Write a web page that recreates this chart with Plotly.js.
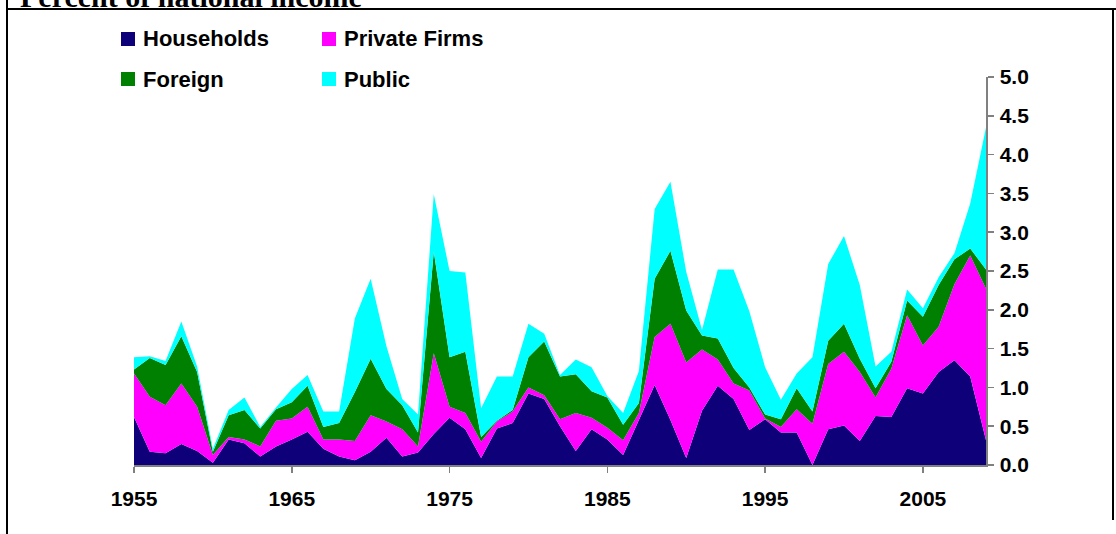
<!DOCTYPE html>
<html>
<head>
<meta charset="utf-8">
<script src="https://cdn.plot.ly/plotly-3.0.1.min.js"></script>
<style>
  html, body { margin: 0; padding: 0; background: #ffffff; }
  #chart { width: 1116px; height: 534px; }
</style>
</head>
<body>
<div id="chart"></div>
<script>
// ---------- data (percent of national income) ----------
const years = [1955,1956,1957,1958,1959,1960,1961,1962,1963,1964,
               1965,1966,1967,1968,1969,1970,1971,1972,1973,1974,
               1975,1976,1977,1978,1979,1980,1981,1982,1983,1984,
               1985,1986,1987,1988,1989,1990,1991,1992,1993,1994,
               1995,1996,1997,1998,1999,2000,2001,2002,2003,2004,
               2005,2006,2007,2008,2009];

const households = [0.62,0.17,0.15,0.27,0.18,0.03,0.33,0.28,0.11,0.24,
                    0.33,0.43,0.21,0.11,0.06,0.17,0.35,0.11,0.16,0.40,
                    0.61,0.46,0.09,0.47,0.54,0.92,0.85,0.50,0.18,0.46,
                    0.33,0.13,0.58,1.03,0.58,0.09,0.70,1.02,0.85,0.45,
                    0.59,0.42,0.42,0.00,0.46,0.51,0.31,0.63,0.62,0.99,
                    0.92,1.20,1.35,1.14,0.32];

const privateFirms = [0.56,0.71,0.62,0.78,0.57,0.10,0.03,0.05,0.13,0.33,
                      0.27,0.32,0.12,0.22,0.25,0.47,0.21,0.35,0.08,1.04,
                      0.14,0.21,0.21,0.09,0.15,0.08,0.05,0.09,0.49,0.15,
                      0.15,0.19,0.09,0.62,1.24,1.23,0.79,0.34,0.20,0.51,
                      0.01,0.07,0.30,0.53,0.84,0.95,0.89,0.24,0.62,0.94,
                      0.62,0.58,0.98,1.56,1.95];

const foreign = [0.05,0.50,0.52,0.61,0.45,0.04,0.28,0.38,0.23,0.15,
                 0.21,0.27,0.16,0.21,0.63,0.73,0.42,0.31,0.18,1.31,
                 0.64,0.79,0.06,0.01,0.02,0.39,0.69,0.55,0.50,0.34,
                 0.39,0.20,0.13,0.75,0.94,0.67,0.18,0.27,0.20,0.04,
                 0.05,0.10,0.27,0.16,0.30,0.36,0.17,0.12,0.09,0.19,
                 0.37,0.54,0.32,0.09,0.25];

const publicSector = [0.16,0.02,0.05,0.19,0.07,0.04,0.07,0.16,0.02,0.02,
                      0.17,0.14,0.20,0.15,0.95,1.03,0.55,0.08,0.23,0.74,
                      1.11,1.02,0.37,0.57,0.43,0.43,0.10,0.02,0.19,0.31,
                      0.02,0.15,0.41,0.90,0.89,0.50,0.07,0.89,1.27,0.98,
                      0.61,0.25,0.19,0.70,0.99,1.13,0.95,0.28,0.13,0.14,
                      0.11,0.10,0.08,0.58,1.83];

const seriesNames = ["Households", "Private Firms", "Foreign", "Public"];
const xTickVals = [1955, 1965, 1975, 1985, 1995, 2005];
const yTickVals = [0, 0.5, 1, 1.5, 2, 2.5, 3, 3.5, 4, 4.5, 5];
const titleText = "Percent of national income";

// ---------- styling ----------
const colors = ["#0e0078", "#ff00ff", "#008000", "#00ffff"];
const W = 1116, H = 534;
const M = {l: 134, r: 130, t: 77, b: 69};
const PW = W - M.l - M.r, PH = H - M.t - M.b;
const px2x = p => (p - M.l) / PW;          // pixel -> paper x
const px2y = p => (H - M.b - p) / PH;      // pixel -> paper y
const sans = "Liberation Sans, Arial, sans-serif";
const serif = "Liberation Serif, Times New Roman, serif";

const allSeries = [households, privateFirms, foreign, publicSector];
const traces = allSeries.map((vals, i) => ({
  type: "scatter",
  x: years,
  y: vals,
  name: seriesNames[i],
  stackgroup: "one",
  mode: "none",
  fillcolor: colors[i],
  line: {width: 0},
  hoverinfo: "x+y+name"
}));

// legend (2 x 2 grid) built from the series names
const legendPos = [
  {sx: 121, tx: 142, cy: 39},
  {sx: 322, tx: 343, cy: 39},
  {sx: 121, tx: 142, cy: 79},
  {sx: 322, tx: 343, cy: 79}
];
const shapes = [];
const annotations = [];
seriesNames.forEach((nm, i) => {
  const p = legendPos[i];
  shapes.push({
    type: "rect", xref: "paper", yref: "paper",
    x0: px2x(p.sx), x1: px2x(p.sx + 14),
    y0: px2y(p.cy + 7), y1: px2y(p.cy - 7),
    fillcolor: colors[i], line: {width: 0}
  });
  annotations.push({
    xref: "paper", yref: "paper", x: px2x(p.tx - 1), y: px2y(p.cy),
    xanchor: "left", yanchor: "middle", showarrow: false,
    text: nm, font: {family: sans, size: 22, color: "#000", weight: "bold"}
  });
});

// frame lines
shapes.push({type: "line", xref: "paper", yref: "paper",
  x0: px2x(7), x1: px2x(1116), y0: px2y(9), y1: px2y(9),
  line: {color: "#000", width: 2}});
shapes.push({type: "line", xref: "paper", yref: "paper",
  x0: px2x(7), x1: px2x(7), y0: px2y(0), y1: px2y(534),
  line: {color: "#000", width: 2}});
shapes.push({type: "line", xref: "paper", yref: "paper",
  x0: px2x(1113), x1: px2x(1113), y0: px2y(9), y1: px2y(520),
  line: {color: "#000", width: 2}});

// title, cut off by the top edge as in the original
annotations.push({
  xref: "paper", yref: "paper", x: px2x(18), y: px2y(-4),
  xanchor: "left", yanchor: "middle", showarrow: false,
  text: titleText, font: {family: serif, size: 30, color: "#000", weight: "bold"}
});

const layout = {
  width: W, height: H,
  margin: M,
  paper_bgcolor: "#ffffff",
  plot_bgcolor: "#ffffff",
  showlegend: false,
  xaxis: {
    range: [1955, 2009],
    tickvals: xTickVals,
    ticktext: xTickVals.map(String),
    ticks: "outside", ticklen: 6, tickwidth: 1.5, tickcolor: "#808080",
    showline: true, linecolor: "#808080", linewidth: 1.5,
    showgrid: false, zeroline: false,
    ticklabelstandoff: 8,
    tickfont: {family: sans, size: 21, color: "#000", weight: "bold"}
  },
  yaxis: {
    side: "right",
    range: [0, 5],
    tickvals: yTickVals,
    tickformat: ".1f",
    ticks: "outside", ticklen: 6, tickwidth: 1.5, tickcolor: "#808080",
    showline: true, linecolor: "#808080", linewidth: 1.5,
    showgrid: false, zeroline: false,
    ticklabelstandoff: 2,
    tickfont: {family: sans, size: 21, color: "#000", weight: "bold"}
  },
  shapes: shapes,
  annotations: annotations
};

Plotly.newPlot("chart", traces, layout, {displayModeBar: false, staticPlot: true});
</script>
</body>
</html>
